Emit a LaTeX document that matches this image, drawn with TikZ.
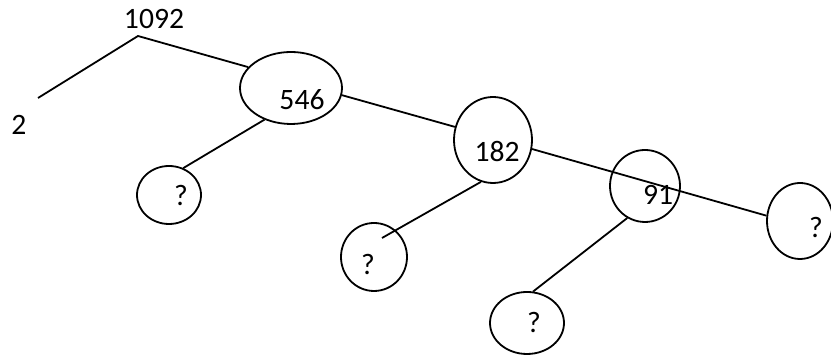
\documentclass[tikz,border=0pt]{standalone}
\usepackage{fontspec}
\setmainfont{Carlito}
\usetikzlibrary{shapes.geometric}

\begin{document}
\begin{tikzpicture}[x=0.5pt,y=-0.5pt,line width=0.9pt,
	bubble/.style={draw,ellipse,inner sep=0pt},
	num/.style={inner sep=0pt,font=\fontsize{14.8}{17}\selectfont}]
		\useasboundingbox (0,0) rectangle (831,356);
		\coordinate (top) at (138,36); %頂点
		\coordinate (left) at (38,98);
		\node[num] (t1092) at (154,19) {1092};
		\node[num] (t2) at (19,125) {2};
		% 楕円
		\node[bubble,minimum width=51pt,minimum height=36pt] (e546) at (291,88) {};
		\node[bubble,minimum width=39pt,minimum height=43pt] (e182) at (493,140) {};
		\node[bubble,minimum width=35pt,minimum height=36pt] (e91) at (645,186) {};
		\node[bubble,minimum width=32pt,minimum height=29pt] (ql) at (169,195) {};
		\node[bubble,minimum width=33pt,minimum height=34pt] (qm) at (374,257) {};
		\node[bubble,minimum width=37pt,minimum height=31pt] (qb) at (527,323) {};
		\node[bubble,minimum width=33pt,minimum height=38pt] (qr) at (800,221) {};
		% 数字
		\node[num] (t546) at (302,100) {546};
		\node[num] (t182) at (497,152) {182};
		\node[num] (t91) at (658,195) {91};
		\node[num] (tql) at (181,195) {?};
		\node[num] (tqm) at (368,265) {?};
		\node[num] (tqb) at (534,322) {?};
		\node[num] (tqr) at (816,228) {?};
		% 線
		\draw (left)--(top)--(e546.154);
		\draw (e546.352)--(e182.161);
		\draw (e182.347)--(qr.171);
		\draw (e546.230)--(ql.62);
		\draw (e182.254)--([shift={(8,-19)}]qm.center);
		\draw (e91.241)--(qb.79);
	\end{tikzpicture}
\end{document}
